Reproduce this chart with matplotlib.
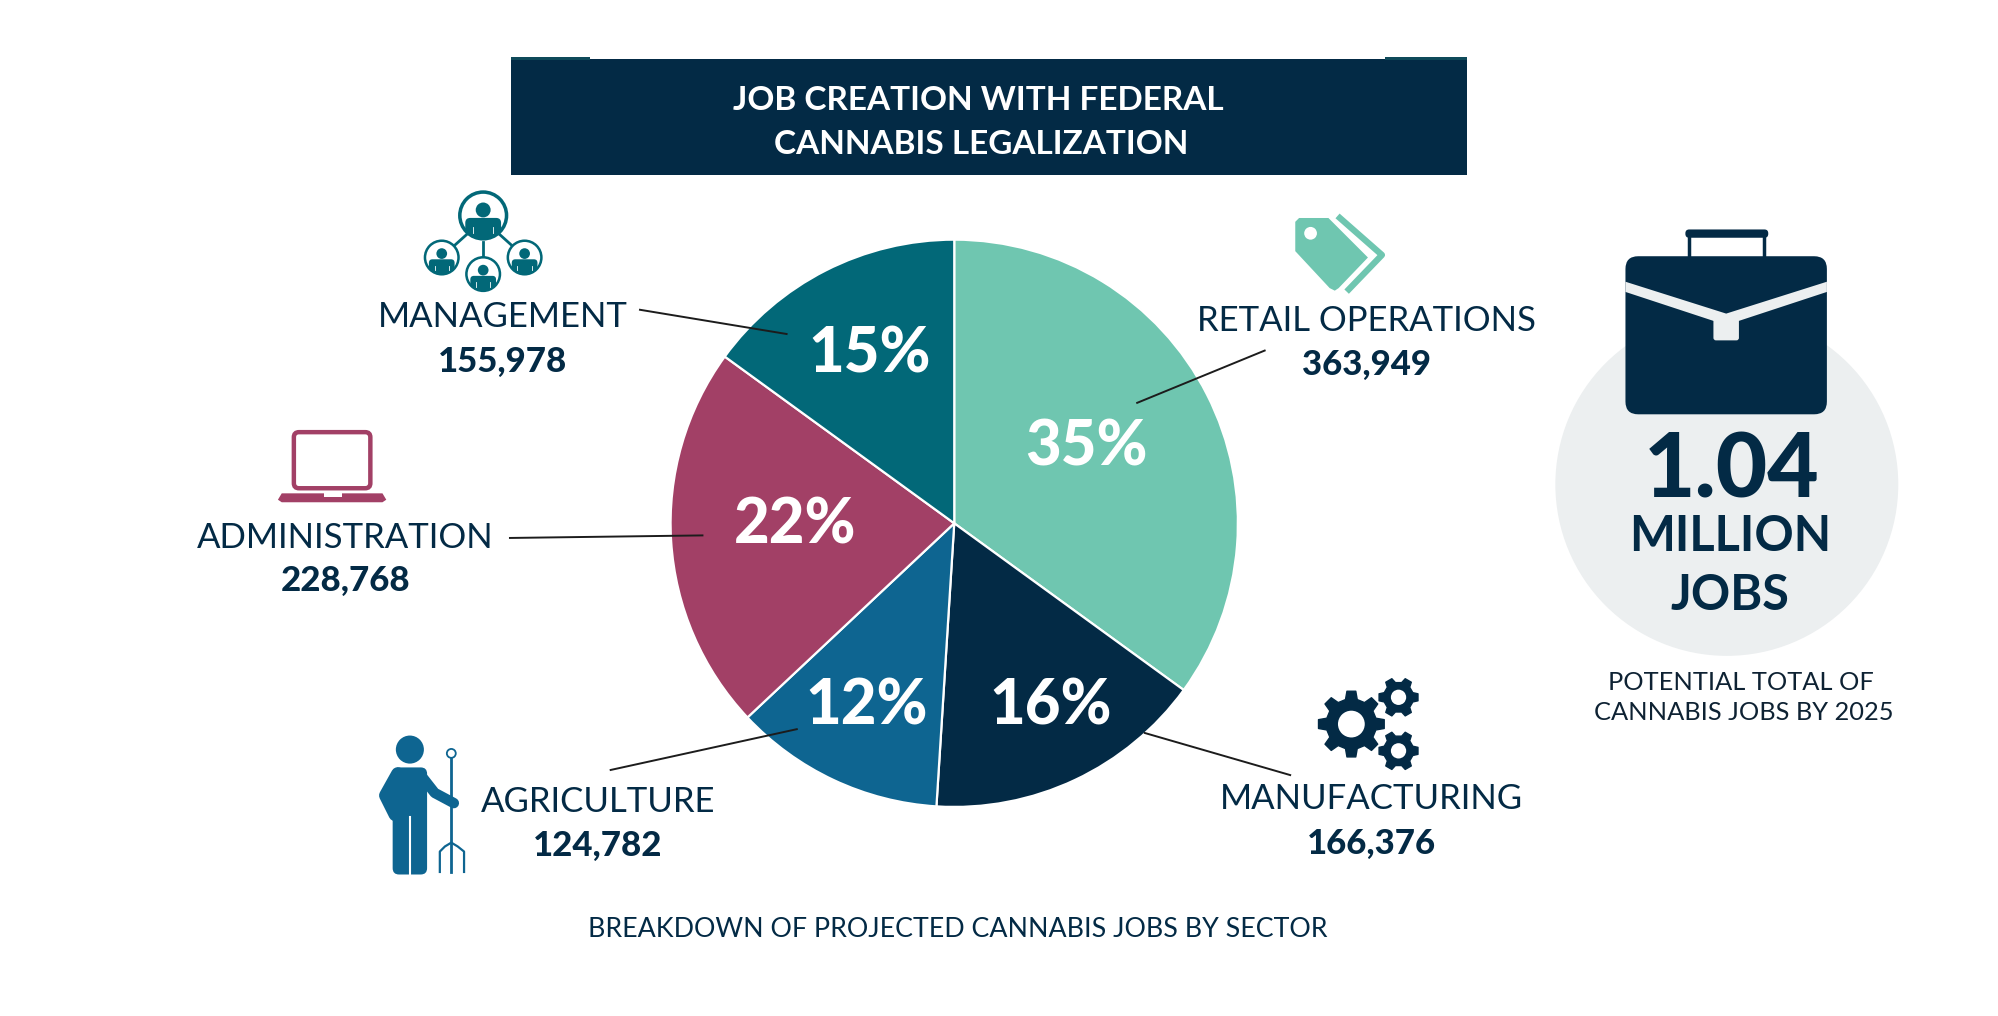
import numpy as np
import matplotlib
matplotlib.use('Agg')
import matplotlib.pyplot as plt
from matplotlib.patches import Circle, FancyBboxPatch, Polygon, Rectangle

# Data
sectors = ['RETAIL OPERATIONS', 'MANUFACTURING', 'AGRICULTURE', 'ADMINISTRATION', 'MANAGEMENT']
jobs = [363949, 166376, 124782, 228768, 155978]
shares = ['35%', '16%', '12%', '22%', '15%']
colors = ['#6FC6B0', '#032A45', '#0E6591', '#A24066', '#026878']

title_lines = ['JOB CREATION WITH FEDERAL', 'CANNABIS LEGALIZATION']
total_lines = ['1.04', 'MILLION', 'JOBS']
total_note = ['POTENTIAL TOTAL OF', 'CANNABIS JOBS BY 2025']
footer = 'BREAKDOWN OF PROJECTED CANNABIS JOBS BY SECTOR'

navy = '#032A45'
pale = '#ECEFF0'

# Label placement (axes units are the 1568 wide layout)
label_xy = [(1072, 252), (1076, 627), (469, 629), (271, 422), (394.5, 249)]
value_y = [286, 662, 664, 456, 284]
share_xy = [(852, 351), (824, 554), (680, 554), (624, 412), (682, 278)]
leaders = [((992, 275), (892, 316)), ((898, 575), (1012, 608)), ((479, 604), (625, 572)),
           ((400, 422), (551, 420)), ((502, 243), (617, 262))]

plt.rcParams['font.family'] = ['Lato', 'DejaVu Sans']

fig = plt.figure(figsize=(19.99, 10.16), dpi=100, facecolor='white')
ax = fig.add_axes([0, 0, 1, 1])

# y axis is flipped, so counterclock here runs clockwise on screen
ax.pie(jobs, colors=colors, startangle=-90, counterclock=True, center=(748.5, 410.5), radius=222.5,
       wedgeprops={'edgecolor': 'white', 'linewidth': 1.6, 'zorder': 2}, frame=True)
ax.set_xlim(0, 1568)
ax.set_ylim(797, 0)
ax.set_aspect('auto')
ax.axis('off')


def person(cx, cy, r, color):
    # head and shoulders inside a ring
    ring = Circle((cx, cy), r * 0.94, fc='white', ec=color, lw=r * 0.13, zorder=3)
    ax.add_patch(ring)
    ax.add_patch(Circle((cx, cy - r * 0.22), r * 0.3, fc=color, ec='none', zorder=3))
    body = FancyBboxPatch((cx - r * 0.72, cy + r * 0.1), r * 1.44, r,
                          boxstyle='round,pad=0,rounding_size=%f' % (r * 0.2),
                          fc=color, ec='none', zorder=3)
    ax.add_patch(body)
    body.set_clip_path(ring)
    for dx in (-0.4, 0.4):
        ax.plot([cx + dx * r, cx + dx * r], [cy + r * 0.45, cy + r * 0.72], color='white', lw=0.6, zorder=4)


def gear(cx, cy, r, hole, teeth, color):
    angles = []
    radii = []
    step = 2 * np.pi / teeth
    for i in range(teeth):
        a = i * step
        angles += [a - step * 0.30, a - step * 0.17, a + step * 0.17, a + step * 0.30]
        radii += [r * 0.76, r, r, r * 0.76]
    angles = np.array(angles)
    radii = np.array(radii)
    pts = np.column_stack([cx + radii * np.cos(angles), cy + radii * np.sin(angles)])
    ax.add_patch(Polygon(pts, closed=True, fc=color, ec=color, lw=1, joinstyle='round', zorder=3))
    ax.add_patch(Circle((cx, cy), hole, fc='white', ec='none', zorder=4))


# Title bar
ax.add_patch(Rectangle((401, 46), 750, 91, fc=navy, ec='none'))
ax.add_patch(Rectangle((401, 45), 62, 2, fc='#0F4A5A', ec='none'))
ax.add_patch(Rectangle((1086, 45), 65, 2, fc='#0F4A5A', ec='none'))
ax.text(767, 79, title_lines[0], color='white', fontsize=24, fontweight='bold', ha='center', va='center')
ax.text(770, 113, title_lines[1], color='white', fontsize=24, fontweight='bold', ha='center', va='center')

# Leader lines
for start, end in leaders:
    ax.plot([start[0], end[0]], [start[1], end[1]], color='#1C1C1C', lw=1.4, zorder=5)

# Sector labels
for i, name in enumerate(sectors):
    x, y = label_xy[i]
    ax.text(x, y, name, color=navy, fontsize=25, ha='center', va='center')
    ax.text(x, value_y[i], format(jobs[i], ','), color=navy, fontsize=25, fontweight='black',
            ha='center', va='center')
    sx, sy = share_xy[i]
    ax.text(sx, sy, shares[i], color='white', fontsize=44.5, fontweight='black', ha='center', va='center', zorder=6)

ax.text(751, 729, footer, color=navy, fontsize=19.3, ha='center', va='center')

# Total circle and briefcase
ax.add_patch(Circle((1354.5, 380), 134.5, fc=pale, ec='none', zorder=1))
ax.plot([1325, 1325], [186, 203], color=navy, lw=2.5, zorder=2)
ax.plot([1384, 1384], [186, 203], color=navy, lw=2.5, zorder=2)
ax.add_patch(FancyBboxPatch((1322, 180), 65, 6.5, boxstyle='round,pad=0,rounding_size=3',
                            fc=navy, ec='none', zorder=2))
ax.add_patch(FancyBboxPatch((1275, 201), 158, 124, boxstyle='round,pad=0,rounding_size=10',
                            fc=navy, ec='none', zorder=3))
ax.add_patch(Polygon([(1275, 221), (1354, 246), (1433, 221), (1433, 229), (1354, 255), (1275, 229)],
                     closed=True, fc=pale, ec='none', zorder=4))
ax.add_patch(FancyBboxPatch((1344, 250), 20, 17, boxstyle='round,pad=0,rounding_size=2',
                            fc=pale, ec='none', zorder=4))
ax.text(1358, 370, total_lines[0], color=navy, fontsize=64, fontweight='black', ha='center', va='center', zorder=4)
ax.text(1357, 421, total_lines[1], color=navy, fontsize=35, fontweight='bold', ha='center', va='center', zorder=4)
ax.text(1357, 467, total_lines[2], color=navy, fontsize=35, fontweight='bold', ha='center', va='center', zorder=4)
ax.text(1365.5, 535, total_note[0], color='#0E2233', fontsize=18.3, ha='center', va='center')
ax.text(1368, 559, total_note[1], color='#0E2233', fontsize=18.3, ha='center', va='center')

# Management icon
teal = colors[4]
for a, b in [((366, 184), (356, 193)), ((392, 184), (402, 193)), ((379, 190), (379, 201))]:
    ax.plot([a[0], b[0]], [a[1], b[1]], color=teal, lw=2, zorder=3)
person(379, 169, 19.5, teal)
person(346.5, 202, 14, teal)
person(379, 215, 14, teal)
person(411.5, 202, 14, teal)

# Laptop icon
mag = colors[3]
ax.add_patch(FancyBboxPatch((230.5, 339), 60, 44, boxstyle='round,pad=0,rounding_size=4',
                            fc='white', ec=mag, lw=3.2, zorder=3))
ax.add_patch(Polygon([(218, 392), (221, 387), (300, 387), (303, 392), (300, 394), (221, 394)],
                     closed=True, fc=mag, ec='none', zorder=3))
ax.add_patch(Rectangle((254, 387), 14, 2.5, fc='white', ec='none', zorder=4))

# Tag icon
mint = colors[0]
ax.add_patch(Polygon([(1016, 174), (1019, 171), (1042, 171), (1073, 202), (1050, 226), (1047, 228),
                      (1043, 226), (1016, 197)], closed=True, fc=mint, ec='none', zorder=3))
ax.add_patch(Circle((1028, 183), 5, fc='white', ec='none', zorder=4))
ax.plot([1051, 1084, 1058], [171, 200, 227], color=mint, lw=4.5, solid_joinstyle='round', zorder=3)

# Gear icon
gear(1060, 568, 26, 10.5, 8, navy)
gear(1097, 547, 15.5, 6, 6, navy)
gear(1097, 589, 15.5, 6, 6, navy)

# Farmer icon
blue = colors[2]
ax.add_patch(Circle((321.5, 588), 11, fc=blue, ec='none', zorder=3))
ax.add_patch(FancyBboxPatch((308, 602), 27, 84, boxstyle='round,pad=0,rounding_size=5',
                            fc=blue, ec='none', zorder=3))
ax.plot([321.5, 321.5], [641, 686], color='white', lw=1.5, zorder=4)
ax.plot([312, 302.5, 310], [607, 624, 639], color=blue, lw=9.5, solid_capstyle='round', solid_joinstyle='round', zorder=3)
ax.plot([330, 341, 356], [608, 622, 630], color=blue, lw=7.5, solid_capstyle='round', solid_joinstyle='round', zorder=3)
ax.plot([354, 354], [594, 684], color=blue, lw=2, zorder=3)
ax.add_patch(Circle((354, 591), 3.5, fc='white', ec=blue, lw=1.3, zorder=3))
ax.plot([345, 345, 349, 354, 359, 364, 364], [684, 668, 664, 661, 664, 668, 684], color=blue, lw=1.6, zorder=3)

fig.savefig('out.png', dpi=100, facecolor='white')
